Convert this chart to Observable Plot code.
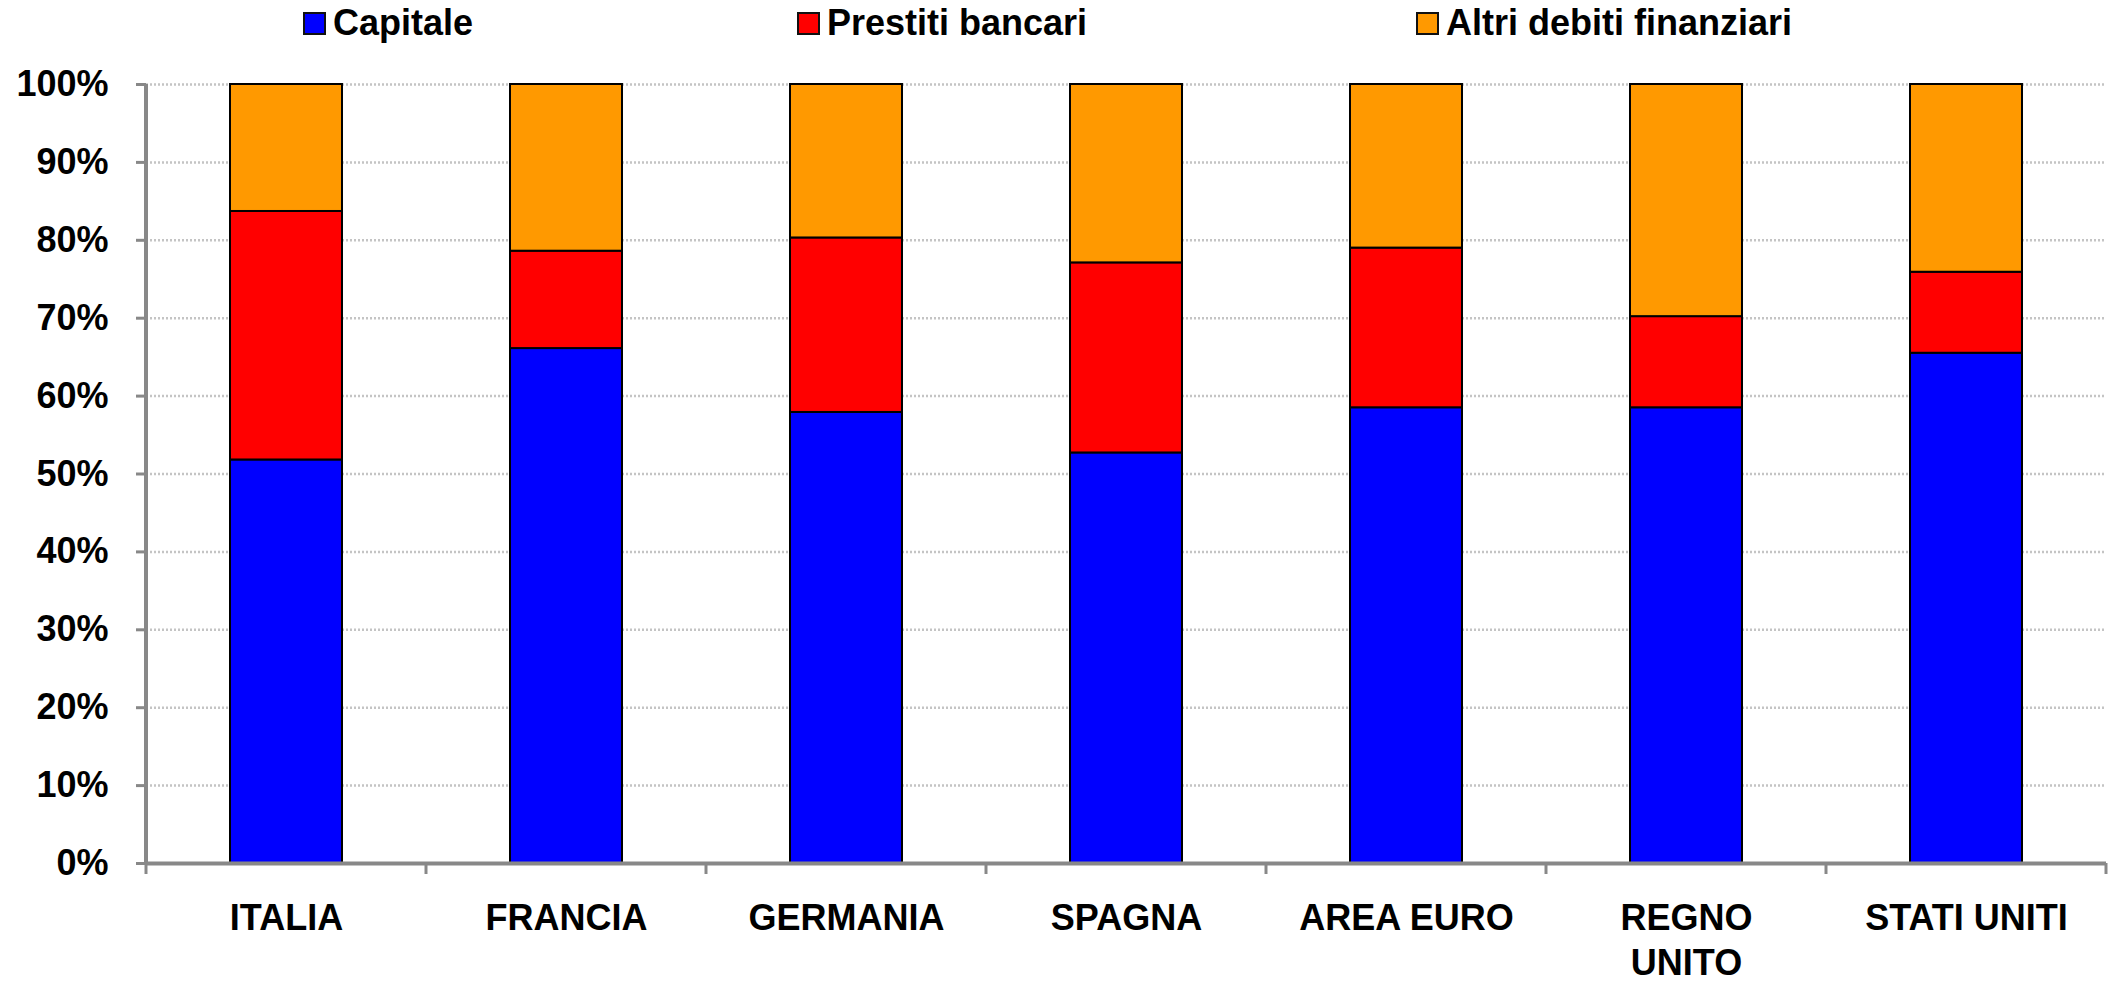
<!DOCTYPE html>
<html>
<head>
<meta charset="utf-8">
<script src="https://cdn.jsdelivr.net/npm/d3@7"></script>
<script src="https://cdn.jsdelivr.net/npm/@observablehq/plot@0.6"></script>
<style>
  html, body { margin: 0; padding: 0; background: #fff; }
  body { width: 2121px; height: 982px; overflow: hidden; font-family: "Liberation Sans", Arial, sans-serif; }
  #legend { position: relative; width: 2121px; height: 50px; }
  .item { position: absolute; top: 0; height: 50px; font-weight: bold; font-size: 36px; line-height: 36px; color: #000; }
  .sw { position: absolute; top: 12px; left: 0; width: 19px; height: 19px; border: 2px solid #111; }
  .lbl { position: absolute; top: 5px; left: 30px; white-space: nowrap; }
  #chart svg { display: block; }
</style>
</head>
<body>
<div id="legend"></div>
<div id="chart"></div>
<script>
// Paesi / aggregati
const categories = ["ITALIA", "FRANCIA", "GERMANIA", "SPAGNA", "AREA EURO", "REGNO UNITO", "STATI UNITI"];
// Etichette dell'asse x (a capo dove serve)
const categoryLabels = ["ITALIA", "FRANCIA", "GERMANIA", "SPAGNA", "AREA EURO", "REGNO\nUNITO", "STATI UNITI"];

// Componenti delle passività (quote percentuali)
const series = ["Capitale", "Prestiti bancari", "Altri debiti finanziari"];
const capitale = [51.8, 66.1, 57.9, 52.7, 58.5, 58.5, 65.5];
const prestiti = [31.9, 12.5, 22.4, 24.4, 20.5, 11.7, 10.4];
const altri    = [16.3, 21.4, 19.7, 22.9, 21.0, 29.8, 24.1];

const colors = ["#0000ff", "#ff0000", "#ff9900"];
const yTicks = [0, 10, 20, 30, 40, 50, 60, 70, 80, 90, 100];

// Tabella lunga: una riga per paese e componente, in ordine di impilamento
const values = [capitale, prestiti, altri];
const rows = series.flatMap((s, i) =>
  categories.map((c, j) => ({country: c, series: s, value: values[i][j]}))
);
const labelOf = new Map(categories.map((c, i) => [c, categoryLabels[i]]));

// Legenda in alto
const legendLeft = [303, 797, 1416];
const legend = document.getElementById("legend");
series.forEach((s, i) => {
  const item = document.createElement("div");
  item.className = "item";
  item.style.left = legendLeft[i] + "px";
  const sw = document.createElement("span");
  sw.className = "sw";
  sw.style.background = colors[i];
  const lbl = document.createElement("span");
  lbl.className = "lbl";
  lbl.textContent = s;
  item.append(sw, lbl);
  legend.append(item);
});

const axisGray = "#888";

// Linea verticale dell'asse y
function leftAxisLine(index, scales, vals, dim) {
  return d3.create("svg:line")
    .attr("x1", dim.marginLeft).attr("x2", dim.marginLeft)
    .attr("y1", dim.marginTop).attr("y2", dim.height - dim.marginBottom + 2)
    .attr("stroke", axisGray).attr("stroke-width", 4)
    .node();
}

// Tacche dell'asse x ai confini tra le categorie
function bandBoundaryTicks(index, scales, vals, dim) {
  const x = scales.x;
  const dom = x.domain();
  const bw = x.bandwidth();
  const step = x.step ? x.step() : (dim.width - dim.marginLeft - dim.marginRight) / dom.length;
  const off = (step - bw) / 2;
  const bounds = dom.map(c => x(c) - off).concat([x(dom[dom.length - 1]) + bw + off]);
  const y0 = dim.height - dim.marginBottom;
  const g = d3.create("svg:g").attr("stroke", axisGray).attr("stroke-width", 3);
  for (const b of bounds) {
    g.append("line").attr("x1", b).attr("x2", b).attr("y1", y0).attr("y2", y0 + 11);
  }
  return g.node();
}

const chart = Plot.plot({
  width: 2121,
  height: 932,
  marginTop: 34,
  marginBottom: 119,
  marginLeft: 146,
  marginRight: 15,
  style: {
    fontFamily: "'Liberation Sans', Arial, sans-serif",
    fontSize: "36px",
    fontWeight: "bold",
    background: "#fff",
    color: "#000",
    overflow: "visible"
  },
  x: {domain: categories, paddingInner: 0.6, paddingOuter: 0.3, label: null},
  y: {domain: [0, 100], label: null},
  color: {domain: series, range: colors},
  marks: [
    Plot.gridY(yTicks.filter(d => d > 0), {
      stroke: "#c4c4c4", strokeOpacity: 1, strokeWidth: 2.5, strokeDasharray: "2,2"
    }),
    Plot.barY(rows, {
      x: "country", y: "value", fill: "series",
      stroke: "#000", strokeWidth: 2
    }),
    Plot.ruleY([0], {stroke: axisGray, strokeWidth: 4}),
    leftAxisLine,
    bandBoundaryTicks,
    Plot.axisY({
      ticks: yTicks, tickSize: 10, tickPadding: 28,
      tickFormat: d => d + "%",
      stroke: axisGray, strokeWidth: 3,
      fill: "#000", fontSize: 36, fontWeight: "bold", label: null
    }),
    Plot.axisX({
      tickSize: 0, tickPadding: 35,
      tickFormat: d => labelOf.get(d),
      lineHeight: 1.25,
      fill: "#000", fontSize: 36, fontWeight: "bold", label: null
    })
  ]
});

document.getElementById("chart").append(chart);
</script>
</body>
</html>
